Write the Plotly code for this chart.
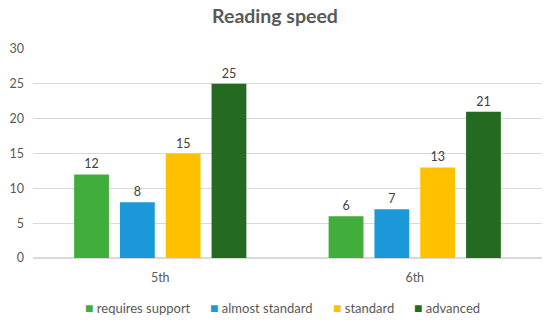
import plotly.graph_objects as go

categories = ["5th", "6th"]
series_names = ["requires support", "almost standard", "standard", "advanced"]
requires_support = [12, 6]
almost_standard = [8, 7]
standard = [15, 13]
advanced = [25, 21]
y_ticks = [0, 5, 10, 15, 20, 25, 30]

colors = ["#41AD3B", "#1B98D8", "#FFC000", "#246B21"]
values = [requires_support, almost_standard, standard, advanced]

fig = go.Figure()
for name, vals, col in zip(series_names, values, colors):
    fig.add_trace(go.Bar(
        x=categories, y=vals, name=name, marker=dict(color=col, line=dict(width=0)),
        text=[str(v) for v in vals], textposition="outside",
        textfont=dict(size=12.5, color="#404040"), cliponaxis=False,
    ))

# manual legend (compact swatch + text like the original)
legend_x = [0.098, 0.344, 0.585, 0.745]
annotations = []
for name, col, lx in zip(series_names, colors, legend_x):
    annotations.append(dict(
        text=f'<span style="color:{col};font-size:14px">■</span> {name}',
        x=lx, xref="paper", xanchor="left",
        y=307, yref="paper", yanchor="middle", showarrow=False,
        font=dict(size=13, color="#595959"),
    ))

fig.update_layout(
    width=550, height=320,
    margin=dict(l=33, r=8, t=49, b=62, autoexpand=False),
    paper_bgcolor="white", plot_bgcolor="white",
    font=dict(family="Lato, Open Sans, sans-serif", color="#595959", size=12),
    title=dict(text="<b>Reading speed</b>", x=0.5, xanchor="center", y=0.95, yanchor="middle",
               font=dict(size=19.5, color="#595959")),
    barmode="group", bargap=0.28, bargroupgap=0.24,
    showlegend=False,
    xaxis=dict(showgrid=False, showline=True, linecolor="#D9D9D9", ticks="",
               tickfont=dict(size=12.5, color="#595959"), ticklabelstandoff=8),
    yaxis=dict(range=[0, 30], tickvals=y_ticks, showgrid=True, gridcolor="#D9D9D9",
               zeroline=True, zerolinecolor="#D9D9D9", showline=False, ticks="",
               tickfont=dict(size=12.5, color="#595959"), ticklabelstandoff=8),
)

# convert legend y from pixel to paper coordinates
plot_h = 320 - 49 - 62
for a in annotations:
    a["y"] = (320 - 62 - a["y"]) / plot_h
fig.update_layout(annotations=annotations)

fig.write_html("out.html", config={"displayModeBar": False},
               post_script="document.body.style.margin='0';")
